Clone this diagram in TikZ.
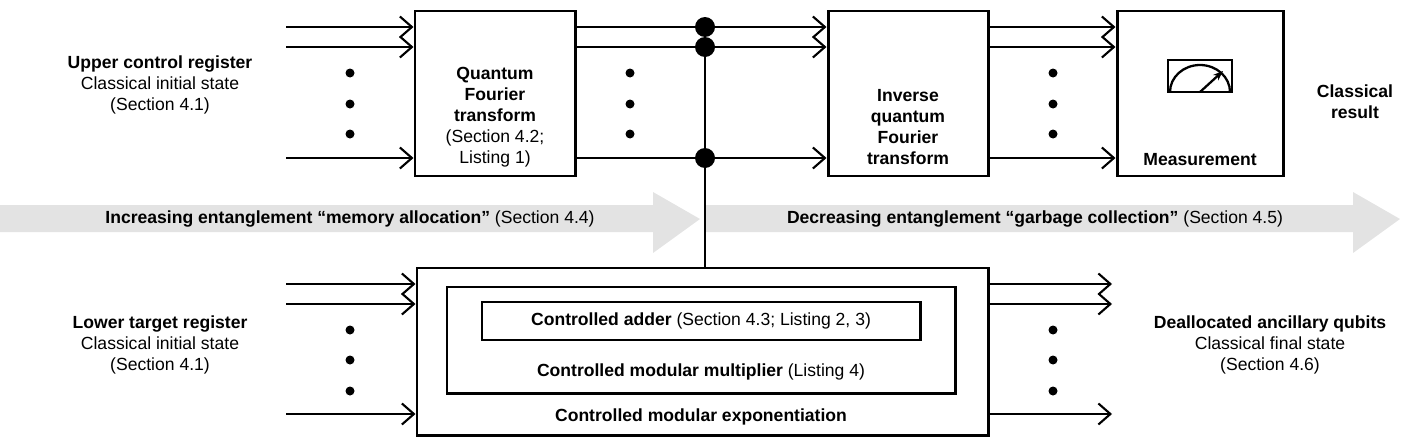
\documentclass[tikz,border=0pt]{standalone}
\usepackage{fontspec}
\setmainfont{Liberation Sans}
\usetikzlibrary{arrows.meta,positioning}
\begin{document}
\begin{tikzpicture}
		[x={(0.02cm,0)}, y={(0,-0.02cm)},
		wire/.style={line width=1.2pt,-{Straight Barb[length=2.4mm,width=4.2mm]}},
		box/.style={draw,line width=1.7pt,inner sep=0pt},
		ctrl/.style={circle,fill,inner sep=0pt,minimum size=4mm},
		vdot/.style={circle,fill,inner sep=0pt,minimum size=1.8mm},
		lbl/.style={align=center,font=\fontsize{10}{11.9}\selectfont},
		flow/.style={fill=black!11,draw=none}]
		\useasboundingbox (0,0) rectangle (1423,443);

		%gray flow arrows
		\fill[flow] (0,205) -- (653,205) -- (653,192) -- (700,219) -- (653,253) -- (653,232) -- (0,232) -- cycle;
		\fill[flow] (704,205) -- (1353,205) -- (1353,192) -- (1400,219) -- (1353,253) -- (1353,232) -- (704,232) -- cycle;
		\node[lbl] (incr) at (350,219) {\textbf{Increasing entanglement “memory allocation”} (Section 4.4)};
		\node[lbl] (decr) at (1035,219) {\textbf{Decreasing entanglement “garbage collection”} (Section 4.5)};

		%boxes
		\node[box,minimum width=160*0.02cm,minimum height=165*0.02cm] (qft) at (495,93.5) {};
		\node[box,minimum width=160*0.02cm,minimum height=165*0.02cm] (iqft) at (908,93.5) {};
		\node[box,minimum width=166*0.02cm,minimum height=165*0.02cm] (meas) at (1200,93.5) {};
		\node[box,minimum width=571*0.02cm,minimum height=167*0.02cm] (cme) at (702.5,351.5) {};
		\node[box,minimum width=508*0.02cm,minimum height=106*0.02cm] (cmm) at (701,340) {};
		\node[box,minimum width=438*0.02cm,minimum height=38*0.02cm] (cadd) at (701,321) {};

		\node[lbl] (qfttext) at (495,117) {\textbf{Quantum}\\\textbf{Fourier}\\\textbf{transform}\\(Section 4.2;\\Listing 1)};
		\node[lbl] (iqfttext) at (908,127) {\textbf{Inverse}\\\textbf{quantum}\\\textbf{Fourier}\\\textbf{transform}};
		\node[lbl] (meastext) at (1200,160) {\textbf{Measurement}};
		\node[lbl] (caddtext) at (701,321) {\textbf{Controlled adder} (Section 4.3; Listing 2, 3)};
		\node[lbl] (cmmtext) at (701,372) {\textbf{Controlled modular multiplier} (Listing 4)};
		\node[lbl] (cmetext) at (701,417) {\textbf{Controlled modular exponentiation}};

		%meter
		\draw[line width=1.3pt] (1168,60) rectangle (1232,92);
		\draw[line width=1.3pt] (1170,92) arc (180:360:30 and 27);
		\draw[line width=1.3pt,-{Stealth[length=2mm]}] (1200,92) -- (1223,71);

		%side texts
		\node[lbl] (upper) at (160,85) {\textbf{Upper control register}\\Classical initial state\\(Section 4.1)};
		\node[lbl] (result) at (1355,102) {\textbf{Classical}\\\textbf{result}};
		\node[lbl] (lower) at (160,345) {\textbf{Lower target register}\\Classical initial state\\(Section 4.1)};
		\node[lbl] (dealloc) at (1270,345) {\textbf{Deallocated ancillary qubits}\\Classical final state\\(Section 4.6)};

		%wires
		\foreach \y/\n in {27/a,47/b,158/c} {
			\coordinate (in\n) at (286,\y);
			\coordinate (ctl\n) at (705,\y);
			\draw[wire] (in\n) -- (in\n -| qft.west);
			\draw[wire] (in\n -| qft.east) -- (in\n -| iqft.west);
			\draw[wire] (in\n -| iqft.east) -- (in\n -| meas.west);
			\node[ctrl] at (ctl\n) {};
		}
		\foreach \y/\n in {284/a,304/b,414/c} {
			\coordinate (lin\n) at (286,\y);
			\coordinate (lout\n) at (1112,\y);
			\draw[wire] (lin\n) -- (lin\n -| cme.west);
			\draw[wire] (lin\n -| cme.east) -- (lout\n);
		}
		\draw[line width=1.2pt] (ctla) -- (ctla |- cme.north);

		%ellipsis dots
		\foreach \x in {350,630,1053}
			\foreach \y in {73,104,134}
				\node[vdot] at (\x,\y) {};
		\foreach \x in {350,1053}
			\foreach \y in {330,360,391}
				\node[vdot] at (\x,\y) {};
	\end{tikzpicture}
\end{document}
